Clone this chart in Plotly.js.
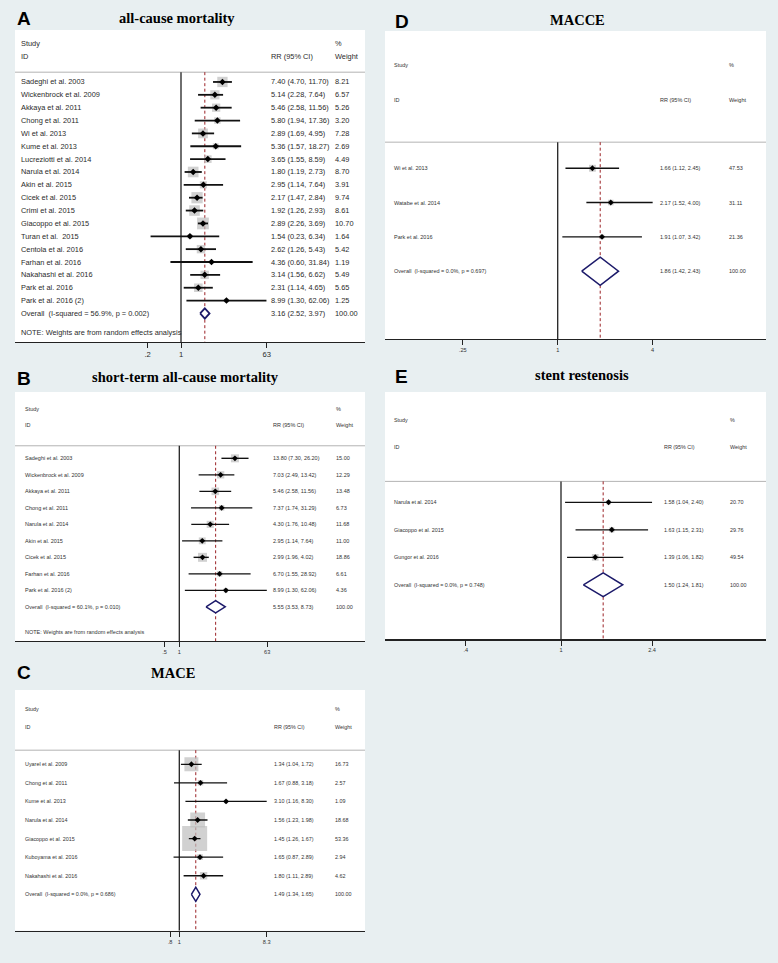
<!DOCTYPE html>
<html>
<head>
<meta charset="utf-8">
<script src="https://cdn.plot.ly/plotly-3.0.1.min.js"></script>
<style>html,body{margin:0;padding:0;background:#e8eff1;}#chart{width:778px;height:963px;}</style>
</head>
<body>
<div id="chart"></div>
<script>
// ---------- DATA ----------
const A_study = ["Sadeghi et al. 2003","Wickenbrock et al. 2009","Akkaya et al. 2011","Chong et al. 2011","Wi et al. 2013","Kume et al. 2013","Lucreziotti et al. 2014","Narula et al. 2014","Akin et al. 2015","Cicek et al. 2015","Crimi et al. 2015","Giacoppo et al. 2015","Turan et al.  2015","Centola et al. 2016","Farhan et al. 2016","Nakahashi et al. 2016","Park et al. 2016","Park et al. 2016 (2)"];
const A_rr = [7.40,5.14,5.46,5.80,2.89,5.36,3.65,1.80,2.95,2.17,1.92,2.89,1.54,2.62,4.36,3.14,2.31,8.99];
const A_lo = [4.70,2.28,2.58,1.94,1.69,1.57,1.55,1.19,1.14,1.47,1.26,2.26,0.23,1.26,0.60,1.56,1.14,1.30];
const A_hi = [11.70,7.64,11.56,17.36,4.95,18.27,8.59,2.73,7.64,2.84,2.93,3.69,6.34,5.43,31.84,6.62,4.65,62.06];
const A_w  = [8.21,6.57,5.26,3.20,7.28,2.69,4.49,8.70,3.91,9.74,8.61,10.70,1.64,5.42,1.19,5.49,5.65,1.25];
const A_overall = [3.16,2.52,3.97];
const A_het = ["56.9%","0.002"];
const A_tickvals = [0.2,1,63];
const A_ticktext = [".2","1","63"];

const B_study = ["Sadeghi et al. 2003","Wickenbrock et al. 2009","Akkaya et al. 2011","Chong et al. 2011","Narula et al. 2014","Akin et al. 2015","Cicek et al. 2015","Farhan et al. 2016","Park et al. 2016 (2)"];
const B_rr = [13.80,7.03,5.46,7.37,4.30,2.95,2.99,6.70,8.99];
const B_lo = [7.30,2.49,2.58,1.74,1.76,1.14,1.96,1.55,1.30];
const B_hi = [26.20,13.42,11.56,31.29,10.48,7.64,4.02,28.92,62.06];
const B_w  = [15.00,12.29,13.48,6.73,11.68,11.00,18.86,6.61,4.36];
const B_overall = [5.55,3.53,8.73];
const B_het = ["60.1%","0.010"];
const B_tickvals = [0.5,1,63];
const B_ticktext = [".5","1","63"];

const C_study = ["Uyarel et al. 2009","Chong et al. 2011","Kume et al. 2013","Narula et al. 2014","Giacoppo et al. 2015","Kuboyama et al. 2016","Nakahashi et al. 2016"];
const C_rr = [1.34,1.67,3.10,1.56,1.45,1.65,1.80];
const C_lo = [1.04,0.88,1.16,1.23,1.26,0.87,1.11];
const C_hi = [1.72,3.18,8.30,1.98,1.67,2.89,2.89];
const C_w  = [16.73,2.57,1.09,18.68,53.36,2.94,4.62];
const C_overall = [1.49,1.34,1.65];
const C_het = ["0.0%","0.686"];
const C_tickvals = [0.8,1,8.3];
const C_ticktext = [".8","1","8.3"];

const D_study = ["Wi et al. 2013","Watabe et al. 2014","Park et al. 2016"];
const D_rr = [1.66,2.17,1.91];
const D_lo = [1.12,1.52,1.07];
const D_hi = [2.45,4.00,3.42];
const D_w  = [47.53,31.11,21.36];
const D_overall = [1.86,1.42,2.43];
const D_het = ["0.0%","0.697"];
const D_tickvals = [0.25,1,4];
const D_ticktext = [".25","1","4"];

const E_study = ["Narula et al. 2014","Giacoppo et al. 2015","Gungor et al. 2016"];
const E_rr = [1.58,1.63,1.39];
const E_lo = [1.04,1.15,1.06];
const E_hi = [2.40,2.31,1.82];
const E_w  = [20.70,29.76,49.54];
const E_overall = [1.50,1.24,1.81];
const E_het = ["0.0%","0.748"];
const E_tickvals = [0.4,1,2.4];
const E_ticktext = [".4","1","2.4"];

const NOTE_TEXT = "NOTE: Weights are from random effects analysis";

// ---------- LAYOUT / STYLE ----------
const W = 778, H = 963;
const fx = p => p / W;
const fy = p => 1 - p / H;
const SANS = "Liberation Sans, Arial, sans-serif";
const SERIF = "Liberation Serif, Times New Roman, serif";

const panels = [
  {letter:"A", title:"all-cause mortality", study:A_study, rr:A_rr, lo:A_lo, hi:A_hi, w:A_w, ov:A_overall, het:A_het, tv:A_tickvals, tt:A_ticktext, note:true,
   box:[15,365,30,342], c:181, k:20.7, yr:[20.22,-4.04], fs:7.4, sq:3.6, lw:1.8, dh:0.4, cols:[19,269,333], letterPos:[15,19], titlePos:[177,18], tfs:7.6, color:"#2a2a2a"},
  {letter:"B", title:"short-term all-cause mortality", study:B_study, rr:B_rr, lo:B_lo, hi:B_hi, w:B_w, ov:B_overall, het:B_het, tv:B_tickvals, tt:B_ticktext, note:true,
   box:[15,365,392,641], c:179.3, k:21.2, yr:[11.07,-4.02], fs:5.5, sq:2.07, lw:1.4, dh:0.37, cols:[22.7,271,334], letterPos:[15,378], titlePos:[185,377], tfs:5.6, color:"#333"},
  {letter:"C", title:"MACE", study:C_study, rr:C_rr, lo:C_lo, hi:C_hi, w:C_w, ov:C_overall, het:C_het, tv:C_tickvals, tt:C_ticktext, note:false,
   box:[15,365,690,930.7], c:179.3, k:41.3, yr:[8.96,-4.0], fs:5.4, sq:3.42, lw:1.3, dh:0.38, cols:[22.7,271.7,332.7], letterPos:[15,672], titlePos:[173,673], tfs:5.6, color:"#333"},
  {letter:"D", title:"MACCE", study:D_study, rr:D_rr, lo:D_lo, hi:D_hi, w:D_w, ov:D_overall, het:D_het, tv:D_tickvals, tt:D_ticktext, note:false,
   box:[385,766,31,339], c:557.7, k:68.5, yr:[4.977,-4.0], fs:5.5, sq:1.0, lw:1.4, dh:0.41, cols:[391.7,658.3,726.7], letterPos:[393,21], titlePos:[577,20], tfs:5.6, color:"#333"},
  {letter:"E", title:"stent restenosis", study:E_study, rr:E_rr, lo:E_lo, hi:E_hi, w:E_w, ov:E_overall, het:E_het, tv:E_tickvals, tt:E_ticktext, note:false,
   box:[385,766,392,639.3], c:561, k:104, yr:[4.982,-4.01], fs:5.4, sq:0.95, lw:1.3, dh:0.43, cols:[391.7,661.7,728.3], letterPos:[393,376], titlePos:[582,375], tfs:5.6, color:"#333"}
];

const fmt = v => v.toFixed(2);
const traces = [];
const annotations = [];
const shapes = [];
const layout = {
  width: W, height: H,
  margin: {l:0, r:0, t:0, b:0},
  paper_bgcolor: "#e8eff1",
  plot_bgcolor: "#ffffff",
  showlegend: false,
  annotations: annotations,
  shapes: shapes
};

panels.forEach((p, i) => {
  const n = i === 0 ? "" : String(i + 1);
  const xa = "x" + n, ya = "y" + n;
  const [x0, x1, yt, yb] = p.box;
  const lnl = (x0 - p.c) / p.k / Math.LN10;
  const lnr = (x1 - p.c) / p.k / Math.LN10;
  layout["xaxis" + n] = {
    type: "log", domain: [fx(x0), fx(x1)], range: [lnl, lnr], anchor: ya,
    showgrid: false, zeroline: false, showline: true, linecolor: "#222", linewidth: 1.2,
    ticks: "outside", ticklen: 5, tickwidth: 1, tickcolor: "#222",
    tickmode: "array", tickvals: p.tv, ticktext: p.tt,
    tickfont: {family: SANS, size: p.tfs, color: p.color}, fixedrange: true
  };
  layout["yaxis" + n] = {
    domain: [fy(yb), fy(yt)], range: p.yr, anchor: xa, visible: false,
    showgrid: false, zeroline: false, fixedrange: true
  };
  const rows = p.study.map((_, j) => j);
  const nr = p.study.length;

  // weight boxes
  traces.push({
    type: "scatter", mode: "markers", xaxis: xa, yaxis: ya,
    x: p.rr, y: rows,
    marker: {symbol: "square", color: "#bdbdbd", size: p.w.map(w => p.sq * Math.sqrt(w)), line: {width: 0}},
    hoverinfo: "skip"
  });
  // CI lines
  const cx = [], cy = [];
  p.lo.forEach((lo, j) => { cx.push(lo, p.hi[j], null); cy.push(j, j, null); });
  traces.push({
    type: "scatter", mode: "lines", xaxis: xa, yaxis: ya, x: cx, y: cy,
    line: {color: "#111", width: p.lw}, hoverinfo: "skip"
  });
  // point estimates
  traces.push({
    type: "scatter", mode: "markers", xaxis: xa, yaxis: ya, x: p.rr, y: rows,
    marker: {symbol: "diamond", color: "#000", size: i === 0 ? 5 : 4.5}, hoverinfo: "skip"
  });
  // overall diamond
  const [oe, ol, oh] = p.ov;
  traces.push({
    type: "scatter", mode: "lines", xaxis: xa, yaxis: ya,
    x: [ol, oe, oh, oe, ol], y: [nr, nr - p.dh, nr, nr + p.dh, nr],
    fill: "toself", fillcolor: "#ffffff",
    line: {color: "#1c1a6a", width: i === 0 ? 1.8 : 1.5}, hoverinfo: "skip"
  });

  // shapes: header line, null line, overall dashed line
  shapes.push({type: "line", xref: xa + " domain", yref: ya, x0: 0, x1: 1, y0: -0.76, y1: -0.76,
    line: {color: "#b3b3b3", width: 1}, layer: "below"});
  shapes.push({type: "line", xref: xa, yref: ya, x0: 1, x1: 1, y0: -0.76, y1: p.yr[0],
    line: {color: "#222", width: 1.3}, layer: "below"});
  shapes.push({type: "line", xref: xa, yref: ya, x0: oe, x1: oe, y0: -0.76, y1: p.yr[0],
    line: {color: "#9b2226", width: 1, dash: "3px,2.5px"}, layer: "below"});

  const txt = (text, px, y, extra) => {
    annotations.push(Object.assign({
      text: text, xref: "paper", yref: ya, x: fx(px), y: y,
      xanchor: "left", yanchor: "middle", showarrow: false,
      font: {family: SANS, size: p.fs, color: p.color}
    }, extra || {}));
  };
  const [cn, cr, cw] = p.cols;
  txt("Study", cn, -3); txt("ID", cn, -2);
  txt("RR (95% CI)", cr, -2);
  txt("%", cw, -3); txt("Weight", cw, -2);
  p.study.forEach((s, j) => {
    txt(s, cn, j);
    txt(fmt(p.rr[j]) + " (" + fmt(p.lo[j]) + ", " + fmt(p.hi[j]) + ")", cr, j);
    txt(fmt(p.w[j]), cw, j);
  });
  txt("Overall\u00a0 (I-squared = " + p.het[0] + ", p = " + p.het[1] + ")", cn, nr);
  txt(fmt(oe) + " (" + fmt(ol) + ", " + fmt(oh) + ")", cr, nr);
  txt("100.00", cw, nr);
  if (p.note) txt(NOTE_TEXT, cn, nr + 1.5);

  // panel letter and title
  annotations.push({text: "<b>" + p.letter + "</b>", xref: "paper", yref: "paper",
    x: fx(p.letterPos[0]), y: fy(p.letterPos[1]), xanchor: "left", yanchor: "middle",
    showarrow: false, font: {family: SANS, size: 19, color: "#000"}});
  annotations.push({text: "<b>" + p.title + "</b>", xref: "paper", yref: "paper",
    x: fx(p.titlePos[0]), y: fy(p.titlePos[1]), xanchor: "center", yanchor: "middle",
    showarrow: false, font: {family: SERIF, size: 14.5, color: "#000"}});
});

Plotly.newPlot("chart", traces, layout, {staticPlot: true, displayModeBar: false});
</script>
</body>
</html>
